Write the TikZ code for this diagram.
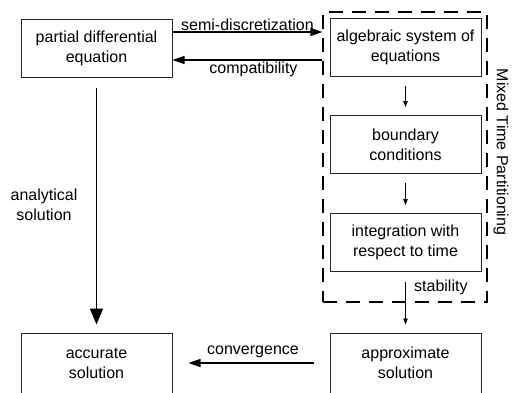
\documentclass[tikz,border=0pt]{standalone}
\usepackage{fontspec}
\setmainfont{Liberation Sans}
\usetikzlibrary{arrows.meta}
\begin{document}
\begin{tikzpicture}[x=1pt,y=-1pt,
  box/.style={draw=black!85, line width=1pt, minimum width=151pt, minimum height=58pt,
    inner sep=0pt, align=center, font=\fontsize{16}{20}\selectfont},
  wide/.style={minimum height=60pt},
  lbl/.style={font=\fontsize{16}{20}\selectfont, align=center, inner sep=2pt},
  frame/.style={draw, line width=1.2pt, dash pattern=on 14pt off 9pt, minimum width=164pt, minimum height=290pt, inner sep=0pt},
  bigarrow/.style={line width=1.2pt, -{Triangle[length=12pt,width=8pt]}},
  thickarrow/.style={line width=1.8pt, -{Triangle[length=16pt,width=13pt]}},
  smallarrow/.style={line width=0.9pt, -{Triangle[length=6pt,width=4.5pt]}}]
\useasboundingbox (0,0) rectangle (512,392);

\node[box] (pde) at (96.5,48) {partial differential\\equation};
\node[box] (alg) at (405.5,47) {algebraic system of\\equations};
\node[box] (bc) at (405.5,144.5) {boundary\\conditions};
\node[box] (integ) at (405.5,242.5) {integration with\\respect to time};
\node[box,wide] (approx) at (405.5,363) {approximate\\solution};
\node[box,wide] (acc) at (96.5,363) {accurate\\solution};

\node[frame] (mtp) at (405,157) {};
\node[lbl, rotate=-90] (mtplabel) at (501,152) {Mixed Time Partitioning};

% horizontal links between the equation and the partitioned system
\draw[bigarrow] ([yshift=16pt]pde.east) -- ([yshift=16pt]pde.east -| mtp.west)
  node[lbl, midway, above, yshift=-1pt] (semi) {semi-discretization};
\draw[bigarrow] ([yshift=-12pt]pde.east -| mtp.west) -- ([yshift=-12pt]pde.east)
  node[lbl, midway, below, xshift=6pt, yshift=1pt] (compat) {compatibility};

% steps inside the partitioning
\draw[smallarrow, shorten <=9pt, shorten >=8pt] (alg) -- (bc);
\draw[smallarrow, shorten <=9pt, shorten >=8pt] (bc) -- (integ);
\draw[smallarrow, shorten <=10pt, shorten >=8pt] (integ) -- (approx);
\node[lbl, anchor=west] (stab) at (412,287) {stability};

% analytical route
\draw[thickarrow, shorten <=10pt, shorten >=8pt] (pde) -- (acc);
\node[lbl] (anal) at (44,205) {analytical\\solution};

% convergence
\draw[bigarrow, shorten <=16pt, shorten >=16pt] (approx) -- (acc)
  node[lbl, midway, above, yshift=3pt, xshift=2pt] (conv) {convergence};
\end{tikzpicture}
\end{document}
